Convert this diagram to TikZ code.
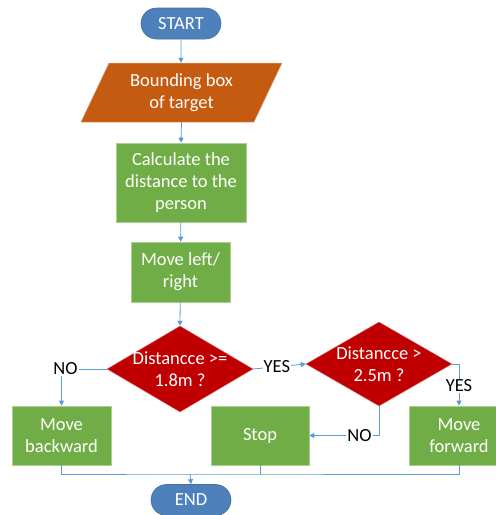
\documentclass[tikz,border=0pt]{standalone}
\usepackage{fontspec}
\setmainfont{Carlito}
\usetikzlibrary{arrows.meta,shapes.geometric,shapes.misc,calc}
\definecolor{termblue}{HTML}{4E80BC}
\definecolor{termedge}{HTML}{41719C}
\definecolor{ioorange}{HTML}{C55A11}
\definecolor{procgreen}{HTML}{70AD47}
\definecolor{procedge}{HTML}{A9D18E}
\definecolor{decred}{HTML}{C00000}
\definecolor{lineblue}{HTML}{5B9BD5}
\begin{document}
\begin{tikzpicture}[x=1pt,y=-1pt,
  every node/.style={font=\fontsize{18.5}{22}\selectfont, align=center, inner sep=0pt},
  term/.style={rounded rectangle, fill=termblue, draw=termedge, line width=0.6pt,
    minimum width=80, minimum height=31, text=white},
  proc/.style={rectangle, fill=procgreen, draw=procedge, line width=0.6pt, text=white},
  dec/.style={diamond, fill=decred, draw=decred!60, line width=0.4pt,
    minimum width=146, minimum height=86},
  dectext/.style={text=white},
  conn/.style={draw=lineblue, line width=0.8pt},
  arr/.style={conn, -{Triangle[length=5pt,width=5pt]}},
  lab/.style={fill=white, text=black, inner sep=1pt}
]
\useasboundingbox (0,0) rectangle (496,515);
\begin{scope}
\clip (0,0) rectangle (496,515);

% terminals
\node[term] (start) at (181,23.5) {START};
\node[term] (end) at (191,500) {END};

% input/output parallelogram
\fill[ioorange] (81,122) -- (109,63) -- (282,63) -- (254,122) -- cycle;
\draw[ioorange!55, line width=0.5pt] (81,122) -- (109,63) -- (282,63) -- (254,122) -- cycle;
\node[minimum width=174, minimum height=59, text=white] (box) at (181.5,92.5) {Bounding box\\of target};

% processes
\node[proc, minimum width=130, minimum height=79] (calc) at (181,182.5)
  {Calculate the\\distance to the\\person};
\node[proc, minimum width=99, minimum height=60] (lr) at (180.5,272) {Move left/\\right};

% decisions
\node[dec] (d1) at (180,369) {};
\node[dectext] at (d1) {Distancce >=\\1.8m ?};
\node[dec, minimum height=84] (d2) at (379,364) {};
\node[dectext] at (d2) {Distancce >\\2.5m ?};

% actions
\node[proc, minimum width=99, minimum height=59] (back) at (61.5,435.5) {Move\\backward};
\node[proc, minimum width=98, minimum height=59] (stop) at (260,435.5) {Stop};
\node[proc, minimum width=100, minimum height=59] (fwd) at (459,435.5) {Move\\forward};
\end{scope}

% flow
\draw[arr] (start) -- (start |- box.north);
\draw[arr] (box.south) -- (calc.north);
\draw[arr] (calc) -- (lr);
\draw[arr] (lr) -- (d1.north);
\draw[arr] (d1.east) -- node[lab, pos=0.45] {YES} (d2.west);
\draw[arr] (d1.west) -| node[lab, pos=0.5, xshift=4pt] {NO} (back.north);
\draw[arr] (d2.east) -| node[lab, pos=0.76] {YES} (fwd.north);
\draw[arr] (d2.south) |- node[lab, pos=0.64] {NO} (stop.east);

% merge into END
\coordinate (bus) at (190,474);
\draw[conn] (back.south) |- (bus) -| (fwd.south);
\draw[conn] (stop.south) -- (stop.south |- bus);
\draw[arr] (bus) -- (end.north);
\end{tikzpicture}
\end{document}
